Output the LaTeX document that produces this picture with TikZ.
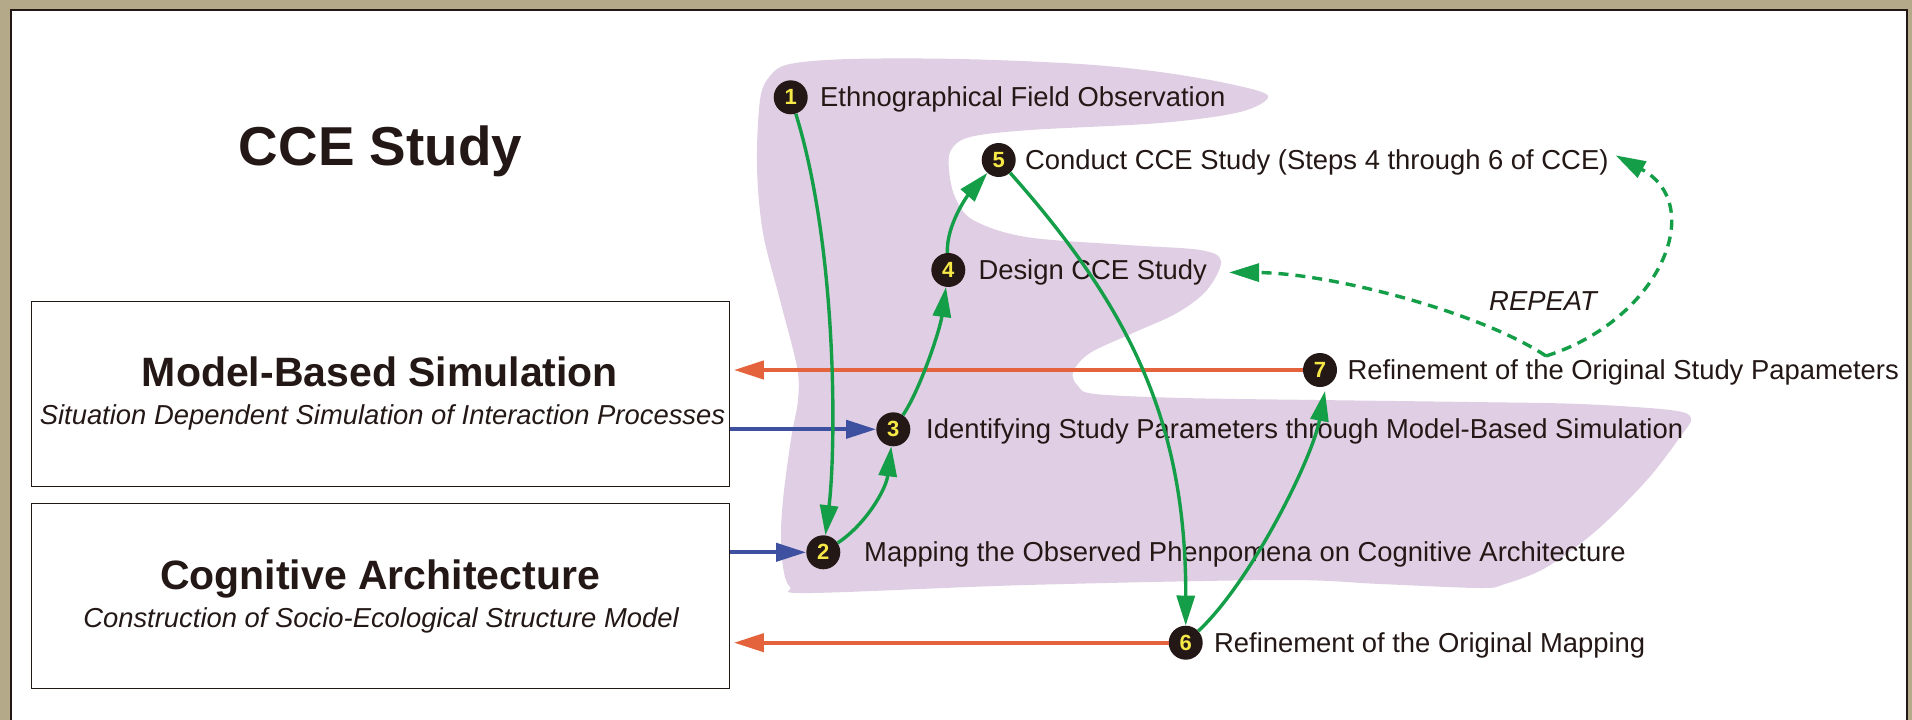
\documentclass[tikz,border=0pt]{standalone}
\usepackage{fontspec}
\setmainfont{Liberation Sans}
\usetikzlibrary{arrows.meta}

\definecolor{ink}{RGB}{35,24,21}
\definecolor{khaki}{RGB}{180,170,138}
\definecolor{lilac}{RGB}{224,207,228}
\definecolor{flowgreen}{RGB}{20,158,72}
\definecolor{feedblue}{RGB}{62,80,160}
\definecolor{backorange}{RGB}{228,98,60}
\definecolor{numyellow}{RGB}{246,232,70}

\begin{document}
\begin{tikzpicture}[x=1pt,y=-1pt,
  stepdot/.style={circle,fill=ink,minimum size=34pt,inner sep=0pt,
    text=numyellow,font=\fontsize{22}{22}\selectfont\bfseries},
  steplabel/.style={anchor=base west,inner sep=0pt,text=ink,
    font=\fontsize{27.4}{30}\selectfont},
  panelbox/.style={draw=ink,line width=1.4pt,anchor=north west,inner sep=0pt,
    minimum width=697.5pt},
  headtext/.style={anchor=base,inner sep=0pt,text=ink,
    font=\fontsize{41}{45}\selectfont\bfseries},
  subtext/.style={anchor=base,inner sep=0pt,text=ink,
    font=\fontsize{27.4}{30}\selectfont\itshape},
  tiphead/.style={-{Triangle[length=30pt,width=18pt]}},
  greenflow/.style={tiphead,draw=flowgreen,line width=3.4pt},
  dashflow/.style={tiphead,draw=flowgreen,line width=3.4pt,dash pattern=on 10pt off 7pt},
  feedflow/.style={tiphead,draw=feedblue,line width=4pt},
  backflow/.style={tiphead,draw=backorange,line width=4.2pt,shorten >=4pt}
]
\useasboundingbox (0,0) rectangle (1912,720);

% framed white sheet
\fill[khaki] (0,0) rectangle (1912,720);
\fill[white] (11,9.5) rectangle (1907,720);
\draw[ink,line width=2pt] (11,720) -- (11,9.5) -- (1907,9.5) -- (1907,720);

% lilac region behind the study steps
\fill[lilac] plot[smooth cycle,tension=0.55] coordinates {
  (770,76) (790,64) (850,59) (960,59) (1080,64) (1160,72) (1230,84) (1268,96)
  (1240,112) (1160,123) (1030,130) (970,137) (951,150) (949,170) (955,197)
  (973,220) (1026,237) (1127,245) (1200,250) (1221,261) (1207,290) (1177,313)
  (1133,333) (1090,353) (1073,372) (1078,386) (1095,394) (1183,398) (1317,400)
  (1470,402) (1580,404) (1670,410) (1691,418) (1680,437) (1647,480) (1597,530)
  (1547,567) (1505,584) (1480,588) (1380,584) (1280,580) (1027,585) (810,593)
  (790,587) (783,567) (781,533) (783,500) (787,467) (792,433) (798,400)
  (797,367) (780,300) (763,233) (757,167) (760,100)};

% title
\node[anchor=base,inner sep=0pt,text=ink,font=\fontsize{54.8}{60}\selectfont\bfseries]
  (title) at (380.5,165) {CCE Study};

% the two model boxes
\node[panelbox,minimum height=185.5pt] (mbs) at (31,300.5) {};
\node[panelbox,minimum height=184.5pt] (cog) at (31,503) {};
\node[headtext] (mbshead) at (380,386) {Model-Based Simulation};
\node[subtext] (mbssub) at (382.5,424) {Situation Dependent Simulation of Interaction Processes};
\node[headtext] (coghead) at (380,589) {Cognitive Architecture};
\node[subtext] (cogsub) at (381,627) {Construction of Socio-Ecological Structure Model};

% step labels
\node[steplabel] (t1) at (820,106.8) {Ethnographical Field Observation};
\node[steplabel] (t5) at (1025,169.5) {Conduct CCE Study (Steps 4 through 6 of CCE)};
\node[steplabel] (t4) at (978.3,279.5) {Design CCE Study};
\node[steplabel] (t7) at (1347.3,379.5) {Refinement of the Original Study Papameters};
\node[steplabel] (t3) at (926,438.8) {Identifying Study Parameters through Model-Based Simulation};
\node[steplabel] (t2) at (864,561.8) {Mapping the Observed Phenpomena on Cognitive Architecture};
\node[steplabel] (t6) at (1214,652.2) {Refinement of the Original Mapping};
\node[subtext] (rep) at (1543,310) {REPEAT};

% numbered step markers
\node[stepdot] (n1) at (790.7,97.3) {1};
\node[stepdot] (n2) at (823.3,552.3) {2};
\node[stepdot] (n3) at (893.3,429.3) {3};
\node[stepdot] (n4) at (948.3,270) {4};
\node[stepdot] (n5) at (998.7,160) {5};
\node[stepdot] (n6) at (1185.7,642.7) {6};
\node[stepdot] (n7) at (1320,370) {7};

% feedback into the model boxes
\draw[backflow] (n7) -- (mbs.east |- n7);
\draw[backflow] (n6) -- (cog.east |- n6);

% inputs from the model boxes
\draw[feedflow] (mbs.east |- n3) -- (n3);
\draw[feedflow] (cog.east |- n2) -- (n2);

% step sequence
\draw[greenflow] (n1) .. controls (838,250) and (836,450) .. (n2);
\draw[greenflow] (n2) .. controls (865,525) and (886,490) .. (n3);
\draw[greenflow] (n3) .. controls (920,390) and (940,330) .. (n4);
\draw[greenflow] (n4) .. controls (946,225) and (968,195) .. (n5);
\draw[greenflow] (n5) .. controls (1132,310) and (1186,425) .. (n6);
\draw[greenflow,shorten >=5pt] (n6) .. controls (1250,583) and (1312,460) .. (n7.-70);

% repeat loop
\coordinate (vrep) at (1546,356);
\draw[dashflow] (vrep) .. controls (1480,312) and (1330,273) .. ([xshift=22pt]t4.east);
\draw[dashflow] (vrep) .. controls (1660,320) and (1708,205) .. ([xshift=7pt,yshift=7pt]t5.east);
\end{tikzpicture}
\end{document}
